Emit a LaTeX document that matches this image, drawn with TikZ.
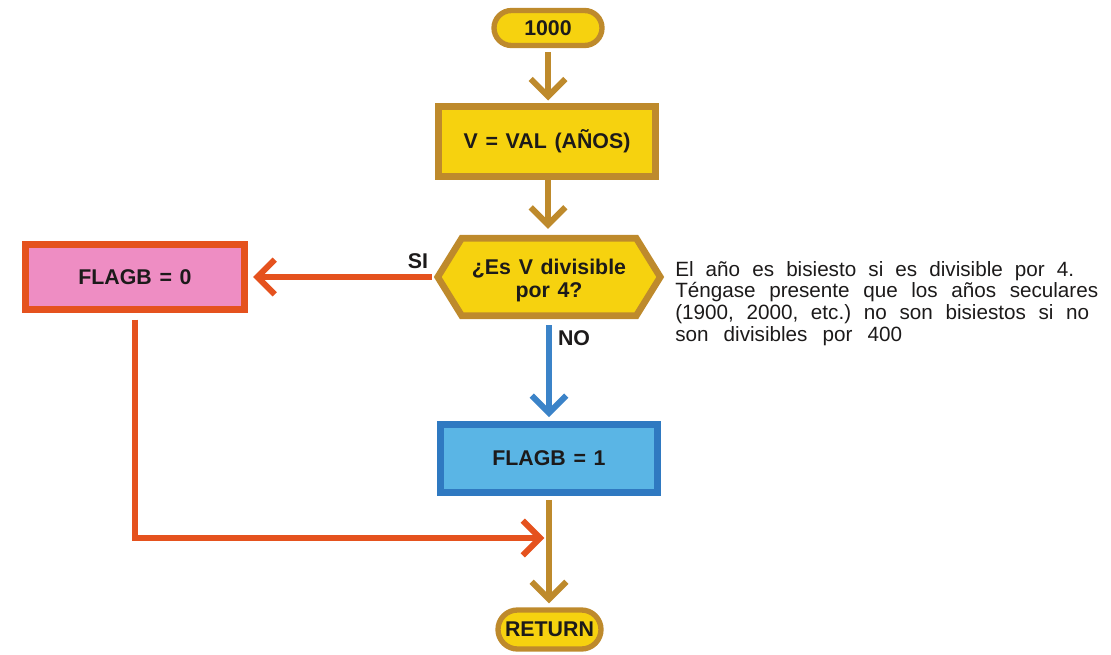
\documentclass[tikz,border=0pt]{standalone}
\usepackage{fontspec}
\setmainfont{Liberation Sans}
\newfontfamily\lblfont[WordSpace=1.3]{Liberation Sans}
\usetikzlibrary{arrows.meta,shapes.misc,calc}
\pgfdeclarelayer{bg}
\pgfsetlayers{bg,main}
\frenchspacing

\definecolor{gold}{HTML}{F6D20F}
\definecolor{ochre}{HTML}{BE8A2C}
\definecolor{redor}{HTML}{E5521E}
\definecolor{pinkf}{HTML}{EE8DC3}
\definecolor{skyf}{HTML}{5AB5E5}
\definecolor{blueb}{HTML}{2F79C1}
\definecolor{bluea}{HTML}{3B83C8}
\definecolor{ink}{HTML}{1C1A1A}

\begin{document}
\begin{tikzpicture}[x=0.75pt,y=-0.75pt,
  lbl/.style={font=\lblfont\bfseries\fontsize{16}{16}\selectfont, text=ink},
  term/.style={lbl, rounded rectangle, draw=ochre, fill=gold, line width=4pt, inner sep=0pt},
  procbox/.style={lbl, rectangle, line width=5pt, inner sep=0pt},
  flow/.style={line width=4.5pt, -{Straight Barb[length=13pt,width=26pt]}},
]
\useasboundingbox (0,0) rectangle (1111,654);

% terminals and process boxes
\node[term, minimum width=108*0.75pt, minimum height=35*0.75pt] (start) at (548,28) {1000};
\node[procbox, draw=ochre, fill=gold, minimum width=217*0.75pt, minimum height=70*0.75pt] (val) at (547,141.5) {V = VAL (AÑOS)};

% decision: hexagon drawn behind its text
\node[lbl, minimum width=222*0.75pt, minimum height=77*0.75pt, align=center, inner sep=0pt] (q) at (549,277)
  {\rule{0pt}{17pt}¿Es V divisible\\[1pt] por 4?};
\begin{pgfonlayer}{bg}
  \draw[line width=5pt, draw=ochre, fill=gold, line join=miter]
    (q.west) -- ([xshift=24*0.75pt]q.north west) -- ([xshift=-24*0.75pt]q.north east)
    -- (q.east) -- ([xshift=-24*0.75pt]q.south east) -- ([xshift=24*0.75pt]q.south west) -- cycle;
\end{pgfonlayer}

\node[procbox, draw=redor, fill=pinkf, minimum width=219*0.75pt, minimum height=65*0.75pt] (f0) at (135,277) {FLAGB = 0};
\node[procbox, draw=blueb, fill=skyf, minimum width=217*0.75pt, minimum height=68*0.75pt] (f1) at (549,458.5) {FLAGB = 1};
\node[term, minimum width=103*0.75pt, minimum height=39*0.75pt] (ret) at (549.5,629.5) {RETURN};

% branch labels
\node[lbl] (si) at (418,261) {SI};
\node[lbl] (no) at (574,338) {NO};

% connectors
\draw[flow, ochre, shorten <=3pt, shorten >=2pt] (start.south) -- (start.south |- val.north);
\draw[flow, ochre, shorten >=7pt] (start.south |- val.south) -- (start.south |- q.north);
\draw[flow, redor, shorten <=4.5pt, shorten >=4pt] (q.west) -- (f0.east);
\draw[flow, bluea, shorten <=7pt, shorten >=3pt] (q.south) -- (q.south |- f1.north);
\draw[flow, ochre, shorten <=3pt, shorten >=3pt] (f1.south) -- (f1.south |- ret.north);
\coordinate (mrg) at (f1.south |- 0,538);
\draw[flow, redor, shorten <=5pt, shorten >=3.5pt] (f0.south) |- (mrg);

% side note
\node[anchor=north west, inner sep=0pt, align=left, text=ink,
      font=\fontsize{15.5}{16.3}\selectfont] (note) at (675,261)
  {\makebox[299.25pt][s]{El año es bisiesto si es divisible por 4.}\\
   \makebox[317.25pt][s]{Téngase presente que los años seculares}\\
   \makebox[310.5pt][s]{(1900, 2000, etc.) no son bisiestos si no}\\
   \makebox[170.25pt][s]{son divisibles por 400}};
\end{tikzpicture}
\end{document}
